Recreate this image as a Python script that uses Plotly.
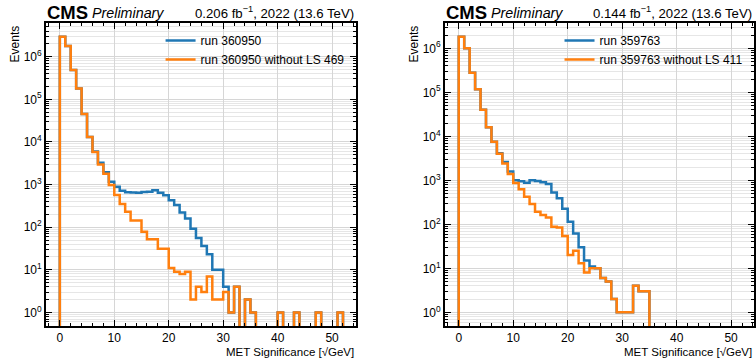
import math
import plotly.graph_objects as go

# ---------------- data (counts per unit-width bin, starting at 0) ----------------
left_title = "0.206 fb<sup>\u22121</sup>, 2022 (13.6 TeV)"
right_title = "0.144 fb<sup>\u22121</sup>, 2022 (13.6 TeV)"

left_names = ["run 360950", "run 360950 without LS 469"]
right_names = ["run 359763", "run 359763 without LS 411"]

left_run = [2950000, 1780000, 490000, 180000, 45000, 13000, 6000, 3240, 1950, 1170,
            890, 715, 660, 650, 640, 670, 680, 730, 640, 560,
            430, 330, 220, 160, 92, 56, 36, 23, 10, 10,
            4, 1, 4, 0, 2, 1, 0, 0, 0, 0,
            1, 0, 0, 1, 0, 0, 0, 1, 0, 0,
            0, 1]
left_run_clean = [2950000, 1780000, 490000, 180000, 45000, 13000, 5800, 2970, 1800, 975,
                  565, 350, 230, 143, 143, 78, 52, 52, 31, 31,
                  11, 9, 8, 9, 2, 4, 3, 7, 2, 2,
                  3, 1, 4, 0, 2, 1, 0, 0, 0, 0,
                  1, 0, 0, 1, 0, 0, 0, 1, 0, 0,
                  0, 1]

right_run = [1830000, 1000000, 280000, 117000, 40000, 16000, 7500, 4150, 2600, 1580,
             1000, 950, 880, 1000, 960, 900, 830, 530, 390, 225,
             115, 62, 30, 15, 11, 10, 6, 5, 2, 1,
             1, 1, 4, 3, 3]
right_run_clean = [1830000, 1000000, 280000, 117000, 40000, 16000, 7500, 4000, 2400, 1390,
                   870, 625, 425, 290, 193, 162, 144, 88, 85, 54,
                   20, 25, 13, 8, 10, 10, 6, 5, 2, 1,
                   1, 1, 4, 3, 3]

x_ticks = [0, 10, 20, 30, 40, 50]
y_ticks = [1, 10, 100, 1000, 10000, 100000, 1000000]
y_ticktext = ["10<sup>%d</sup>" % i for i in range(7)]

BLUE = "#1f77b4"
ORANGE = "#ff7f0e"
FLOOR = 1e-2  # zero counts drawn below the visible range (log axis)


def step(counts):
    edges = list(range(len(counts) + 1))
    xs = [edges[0]] + edges[:-1] + [edges[-1]]
    ys = [FLOOR] + [c if c > 0 else FLOOR for c in counts] + [FLOOR]
    return xs, ys


W, H = 756, 363
font = "Liberation Sans, Arial, Helvetica, sans-serif"

fig = go.Figure()
for (counts, name, color, xa, ya, lg) in [
    (left_run, left_names[0], BLUE, "x", "y", "legend"),
    (left_run_clean, left_names[1], ORANGE, "x", "y", "legend"),
    (right_run, right_names[0], BLUE, "x2", "y2", "legend2"),
    (right_run_clean, right_names[1], ORANGE, "x2", "y2", "legend2"),
]:
    xs, ys = step(counts)
    fig.add_trace(go.Scatter(x=xs, y=ys, mode="lines", line=dict(shape="hv", color=color, width=2.5),
                             name=name, xaxis=xa, yaxis=ya, legend=lg))

minor_y = [k * 10 ** n for n in range(-1, 7) for k in range(2, 10)]

def xaxis(domain, rng, anchor):
    return dict(domain=domain, range=rng, anchor=anchor, tickmode="array", tickvals=x_ticks,
                ticks="inside", ticklen=6, tickwidth=1, tickcolor="black", mirror="allticks",
                showline=True, linecolor="black", linewidth=1.5, showgrid=True, gridcolor="#d6d6d6",
                gridwidth=1, zeroline=False, tickfont=dict(size=12, color="black"),
                minor=dict(dtick=2, tick0=0, ticks="inside", ticklen=3, tickcolor="black", showgrid=False))

def yaxis(rng, anchor):
    return dict(type="log", domain=[(H - 326) / H, (H - 23) / H], range=rng, anchor=anchor,
                tickmode="array", tickvals=y_ticks, ticktext=y_ticktext,
                ticks="inside", ticklen=6, tickwidth=1, tickcolor="black", mirror="allticks",
                showline=True, linecolor="black", linewidth=1.5, showgrid=True, gridcolor="#d6d6d6",
                zeroline=False, tickfont=dict(size=12, color="black"),
                minor=dict(tickmode="array", tickvals=minor_y, ticks="inside", ticklen=3,
                           tickcolor="black", showgrid=True, gridcolor="#e6e6e6"))

fig.update_layout(
    width=W, height=H, margin=dict(l=0, r=0, t=0, b=0),
    paper_bgcolor="white", plot_bgcolor="white",
    font=dict(family=font, color="black"),
    xaxis=xaxis([46 / W, 357 / W], [-2.56, 54.4], "y"),
    yaxis=yaxis([math.log10(0.48), 6.79], "x"),
    xaxis2=xaxis([446 / W, 1.0], [-2.56, 54.2], "y2"),
    yaxis2=yaxis([math.log10(0.49), 6.575], "x2"),
    legend=dict(x=161 / W, y=1 - 26 / H, xanchor="left", yanchor="top", bgcolor="rgba(0,0,0,0)",
                font=dict(size=12), tracegroupgap=0),
    legend2=dict(x=561 / W, y=1 - 26 / H, xanchor="left", yanchor="top", bgcolor="rgba(0,0,0,0)",
                 font=dict(size=12), tracegroupgap=0),
)

ann = []
for (x0, x1, title) in [(46, 357, left_title), (446, 756, right_title)]:
    ann.append(dict(text="<b>CMS</b>", x=(x0 - 1) / W, y=1 - 12.5 / H, xref="paper", yref="paper",
                    xanchor="left", yanchor="middle", showarrow=False, font=dict(size=18.5)))
    ann.append(dict(text="<i>Preliminary</i>", x=(x0 + 44) / W, y=1 - 13 / H, xref="paper", yref="paper",
                    xanchor="left", yanchor="middle", showarrow=False, font=dict(size=14.3)))
    ann.append(dict(text=title, x=x1 / W, y=1 - 12 / H, xref="paper", yref="paper",
                    xanchor="right", yanchor="middle", showarrow=False, font=dict(size=13.2)))
    ann.append(dict(text="Events", x=(x0 - 30) / W, y=(H - 23) / H, xref="paper", yref="paper",
                    xanchor="center", yanchor="top", textangle=-90, showarrow=False, font=dict(size=12)))
    ann.append(dict(text="MET Significance [\u221aGeV]", x=x1 / W, y=(H - 352) / H, xref="paper",
                    yref="paper", xanchor="right", yanchor="middle", showarrow=False, font=dict(size=11.5)))
fig.update_layout(annotations=ann)

fig.write_html("out.html")
